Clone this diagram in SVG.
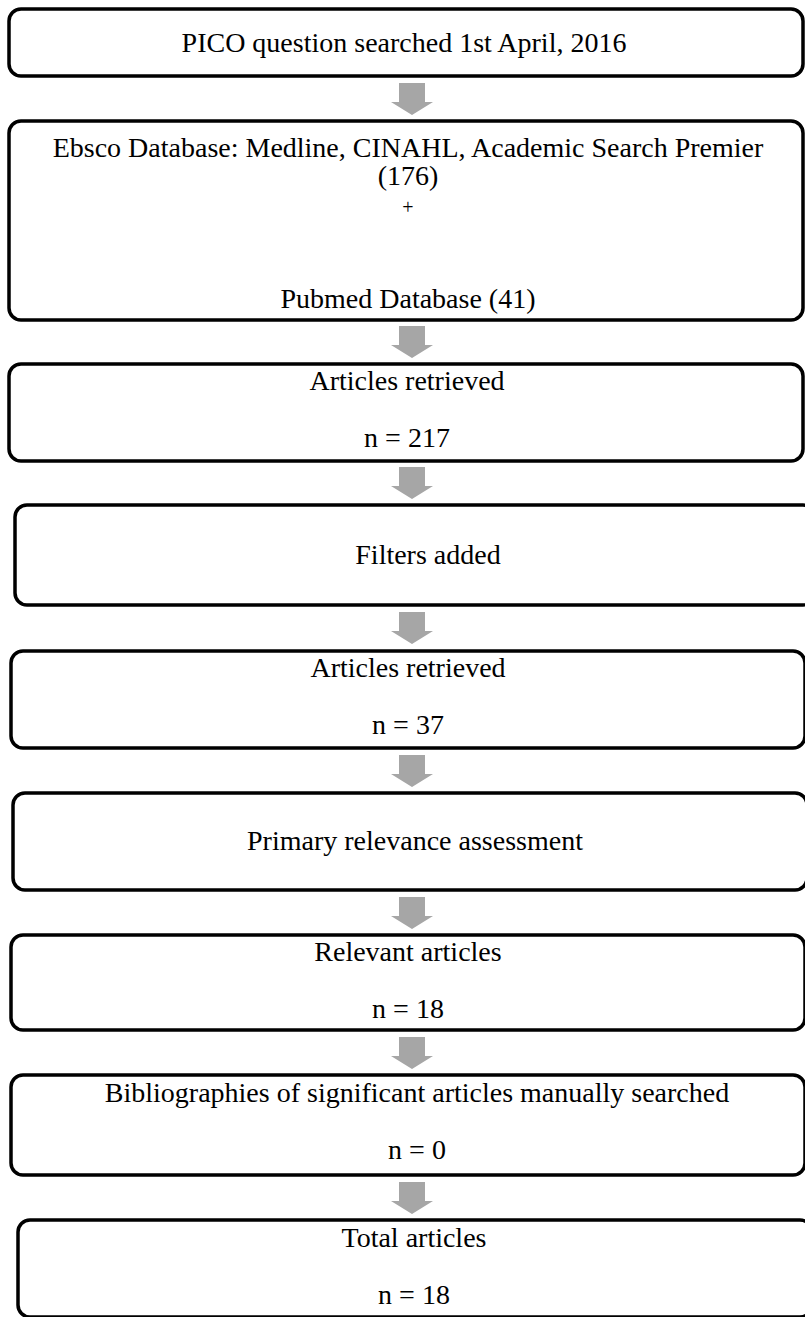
<svg xmlns="http://www.w3.org/2000/svg" width="805" height="1317" viewBox="0 0 805 1317">
<style>
.box{fill:#fff;stroke:#000;stroke-width:3.5}
.t{font-family:"Liberation Serif","Times New Roman",serif;font-size:28px;fill:#000;text-anchor:middle}
.arr{fill:#a6a6a6}
</style>
<defs>
<path id="arrow" d="M-13,0 H13 V19 H21 L0,32 L-21,19 H-13 Z"/>
</defs>
<g id="connectors">
<use href="#arrow" class="arr" x="412" y="83"/>
<use href="#arrow" class="arr" x="412" y="326"/>
<use href="#arrow" class="arr" x="412" y="467"/>
<use href="#arrow" class="arr" x="412" y="612"/>
<use href="#arrow" class="arr" x="412" y="755"/>
<use href="#arrow" class="arr" x="412" y="897"/>
<use href="#arrow" class="arr" x="412" y="1037"/>
<use href="#arrow" class="arr" x="412" y="1182"/>
</g>
<g id="node1">
<rect class="box" x="9" y="9" width="794" height="67" rx="12"/>
<text class="t" x="404" y="52">PICO question searched 1st April, 2016</text>
</g>
<g id="node2">
<rect class="box" x="9" y="121" width="794" height="199" rx="12"/>
<text class="t" x="408" y="157">Ebsco Database: Medline, CINAHL, Academic Search Premier</text>
<text class="t" x="408" y="185">(176)</text>
<text class="t" x="408" y="214" style="font-size:20px">+</text>
<text class="t" x="408" y="308">Pubmed Database (41)</text>
</g>
<g id="node3">
<rect class="box" x="9" y="364" width="794" height="97" rx="12"/>
<text class="t" x="407" y="390">Articles retrieved</text>
<text class="t" x="407" y="447">n = 217</text>
</g>
<g id="node4">
<rect class="box" x="15" y="505" width="800" height="100" rx="12"/>
<text class="t" x="428" y="564">Filters added</text>
</g>
<g id="node5">
<rect class="box" x="11" y="651" width="794" height="97" rx="12"/>
<text class="t" x="408" y="677">Articles retrieved</text>
<text class="t" x="408" y="734">n = 37</text>
</g>
<g id="node6">
<rect class="box" x="13" y="793" width="794" height="97" rx="12"/>
<text class="t" x="415" y="850">Primary relevance assessment</text>
</g>
<g id="node7">
<rect class="box" x="11" y="935" width="794" height="95" rx="12"/>
<text class="t" x="408" y="961">Relevant articles</text>
<text class="t" x="408" y="1018">n = 18</text>
</g>
<g id="node8">
<rect class="box" x="11" y="1075" width="794" height="100" rx="12"/>
<text class="t" x="417" y="1102">Bibliographies of significant articles manually searched</text>
<text class="t" x="417" y="1159">n = 0</text>
</g>
<g id="node9">
<rect class="box" x="18" y="1220" width="794" height="97" rx="12"/>
<text class="t" x="414" y="1247">Total articles</text>
<text class="t" x="414" y="1304">n = 18</text>
</g>
</svg>
